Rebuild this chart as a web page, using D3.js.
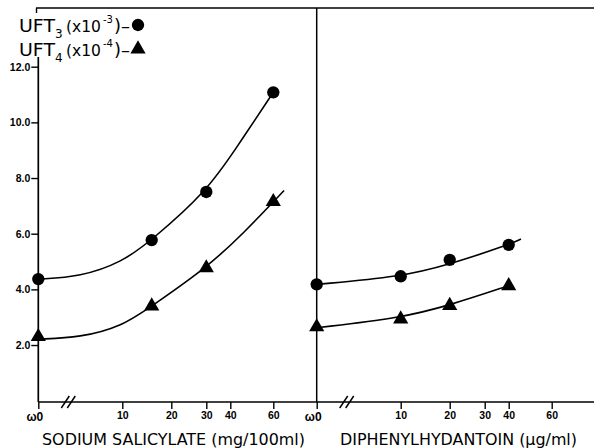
<!DOCTYPE html>
<html>
<head>
<meta charset="utf-8">
<script src="https://cdn.jsdelivr.net/npm/d3@7"></script>
<style>
  body { margin: 0; background: #fff; }
  text { font-family: "DejaVu Sans", sans-serif; fill: #000; }
</style>
</head>
<body>
<svg id="chart" width="594" height="448"></svg>
<script>
// measured points (dose, free hormone value)
var doseLeft = [0, 16, 30, 60];            // sodium salicylate, mg/100ml
var uft3Left = [4.37, 5.77, 7.5, 11.08];
var uft4Left = [2.3, 3.4, 4.77, 7.15];

var doseRight = [0, 10, 20, 40];           // diphenylhydantoin, ug/ml
var uft3Right = [4.18, 4.47, 5.06, 5.6];
var uft4Right = [2.65, 2.93, 3.42, 4.13];

// hand drawn fit lines (used as spline control points)
var fitDoseL3 = [0, 0, 5, 10, 16, 30, 43, 60, 60];
var fitValL3  = [4.37, 4.37, 4.45, 4.98, 5.77, 7.5, 9.1, 11.08, 11.08];
var fitDoseL4 = [0, 0, 5, 10, 16, 30, 46, 65, 65];
var fitValL4  = [2.21, 2.21, 2.27, 2.68, 3.4, 4.77, 6.0, 7.55, 7.55];
var fitDoseR3 = [0, 0, 10, 20, 40, 45.7, 45.7];
var fitValR3  = [4.18, 4.18, 4.45, 4.9, 5.6, 5.81, 5.81];
var fitDoseR4 = [0, 0, 10, 20, 40, 41, 41];
var fitValR4  = [2.62, 2.62, 2.97, 3.43, 4.13, 4.16, 4.16];

// axis ticks
var doseTicks = [0, 10, 20, 30, 40, 60];
var yTicks = [2, 4, 6, 8, 10, 12];

var svg = d3.select("#chart");

// the dose axis is not uniform in the original, so a piecewise scale
var tickOffsets = [0, 84, 133, 168, 192, 235];
var x0Left = 38.3, x0Right = 316.7;
var xLeft = d3.scaleLinear().domain(doseTicks).range(tickOffsets.map(function(d) { return d + x0Left; }));
var xRight = d3.scaleLinear().domain(doseTicks).range(tickOffsets.map(function(d) { return d + x0Right; }));
var y = d3.scaleLinear().domain([0, 12]).range([400.7, 66.7]);
var axisY = 402;

// frame lines
svg.append("line").attr("x1", 36).attr("x2", 594).attr("y1", 8).attr("y2", 8)
  .style("stroke", "black").style("stroke-width", 1.6);
svg.append("line").attr("x1", 36.5).attr("x2", 36.5).attr("y1", 8).attr("y2", 13)
  .style("stroke", "black").style("stroke-width", 1.4);
svg.append("line").attr("x1", x0Left).attr("x2", x0Left).attr("y1", 57).attr("y2", axisY)
  .style("stroke", "black").style("stroke-width", 1.7);
svg.append("line").attr("x1", x0Right).attr("x2", x0Right).attr("y1", 8).attr("y2", axisY)
  .style("stroke", "black").style("stroke-width", 1.5);
svg.append("line").attr("x1", x0Left).attr("x2", 594).attr("y1", axisY).attr("y2", axisY)
  .style("stroke", "black").style("stroke-width", 1.5);

// y axis
var yAxis = svg.append("g")
  .attr("transform", "translate(" + x0Left + ",0)")
  .call(d3.axisLeft(y).tickValues(yTicks).tickSize(7).tickFormat(d3.format(".1f")));
yAxis.select(".domain").remove();
yAxis.selectAll("line").style("stroke", "black").style("stroke-width", 1.4);
yAxis.selectAll("text").attr("x", -8).style("font-size", "10.5px").style("font-weight", "bold")
  .style("font-family", "'Liberation Sans', sans-serif");

// x axes, one per panel
function drawDoseAxis (scale) {
  var g = svg.append("g")
    .attr("transform", "translate(0," + axisY + ")")
    .call(d3.axisBottom(scale).tickValues(doseTicks).tickSize(7)
      .tickFormat(function(d) { return d === 0 ? "ω0" : d; }));
  g.select(".domain").remove();
  g.selectAll("line").style("stroke", "black").style("stroke-width", 1.4);
  g.selectAll("text").attr("y", 10).style("font-size", "10.5px").style("font-weight", "bold")
    .style("font-family", "'Liberation Sans', sans-serif");
  g.selectAll(".tick").filter(function(d) { return d === 0; }).select("text")
    .attr("dx", -4).style("font-size", "12px");

  // axis break "//"
  var bx = scale(0) + 27;
  [0, 6].forEach(function(off) {
    svg.append("line")
      .attr("x1", bx + off - 4).attr("y1", axisY + 6)
      .attr("x2", bx + off + 4).attr("y2", axisY - 6)
      .style("stroke", "black").style("stroke-width", 1.5);
  });
}
drawDoseAxis(xLeft);
drawDoseAxis(xRight);

// fit curves (B-spline, the doubled end points pull it onto the ends)
function drawFit (scale, doses, vals) {
  var pts = doses.map(function(d, i) { return [scale(d), y(vals[i])]; });
  svg.append("path")
    .attr("d", d3.line().curve(d3.curveBasis)(pts))
    .style("fill", "none").style("stroke", "black").style("stroke-width", 1.6);
}
drawFit(xLeft, fitDoseL3, fitValL3);
drawFit(xLeft, fitDoseL4, fitValL4);
drawFit(xRight, fitDoseR3, fitValR3);
drawFit(xRight, fitDoseR4, fitValR4);

// point markers
var circleSym = d3.symbol().type(d3.symbolCircle).size(120);
var triSym = d3.symbol().type(d3.symbolTriangle).size(100);

function drawPoints (scale, doses, vals, sym) {
  svg.append("g").selectAll("path")
    .data(doses)
    .enter()
    .append("path")
    .attr("d", sym)
    .attr("transform", function(d, i) { return "translate(" + scale(d) + "," + y(vals[i]) + ")"; })
    .style("fill", "black");
}
drawPoints(xLeft, doseLeft, uft3Left, circleSym);
drawPoints(xLeft, doseLeft, uft4Left, triSym);
drawPoints(xRight, doseRight, uft3Right, circleSym);
drawPoints(xRight, doseRight, uft4Right, triSym);

// legend
var legendRows = [
  {sub: "3", sup: "-3", sym: circleSym, y: 32},
  {sub: "4", sup: "-4", sym: triSym, y: 56}
];
legendRows.forEach(function(r) {
  var g = svg.append("g");
  g.append("text").attr("x", 19).attr("y", r.y).style("font-size", "18px")
    .attr("textLength", 36).attr("lengthAdjust", "spacingAndGlyphs").text("UFT");
  g.append("text").attr("x", 55).attr("y", r.y + 6).style("font-size", "12px").text(r.sub);
  g.append("text").attr("x", 66).attr("y", r.y).style("font-size", "15.5px")
    .attr("textLength", 35).attr("lengthAdjust", "spacingAndGlyphs").text("(x10");
  g.append("text").attr("x", 103).attr("y", r.y - 9).style("font-size", "10px").text(r.sup);
  g.append("text").attr("x", 114).attr("y", r.y).style("font-size", "18px").text(")–");
  svg.append("path").attr("d", r.sym)
    .attr("transform", "translate(138," + (r.y - 7) + ")")
    .style("fill", "black");
});

// axis titles
svg.append("text").attr("x", 42).attr("y", 445)
  .attr("textLength", 263).attr("lengthAdjust", "spacingAndGlyphs")
  .style("font-family", "'DejaVu Sans Condensed', 'DejaVu Sans', sans-serif")
  .style("font-size", "16px")
  .text("SODIUM  SALICYLATE  (mg/100ml)");
svg.append("text").attr("x", 340).attr("y", 445)
  .attr("textLength", 237).attr("lengthAdjust", "spacingAndGlyphs")
  .style("font-family", "'DejaVu Sans Condensed', 'DejaVu Sans', sans-serif")
  .style("font-size", "16px")
  .text("DIPHENYLHYDANTOIN  (μg/ml)");
</script>
</body>
</html>
